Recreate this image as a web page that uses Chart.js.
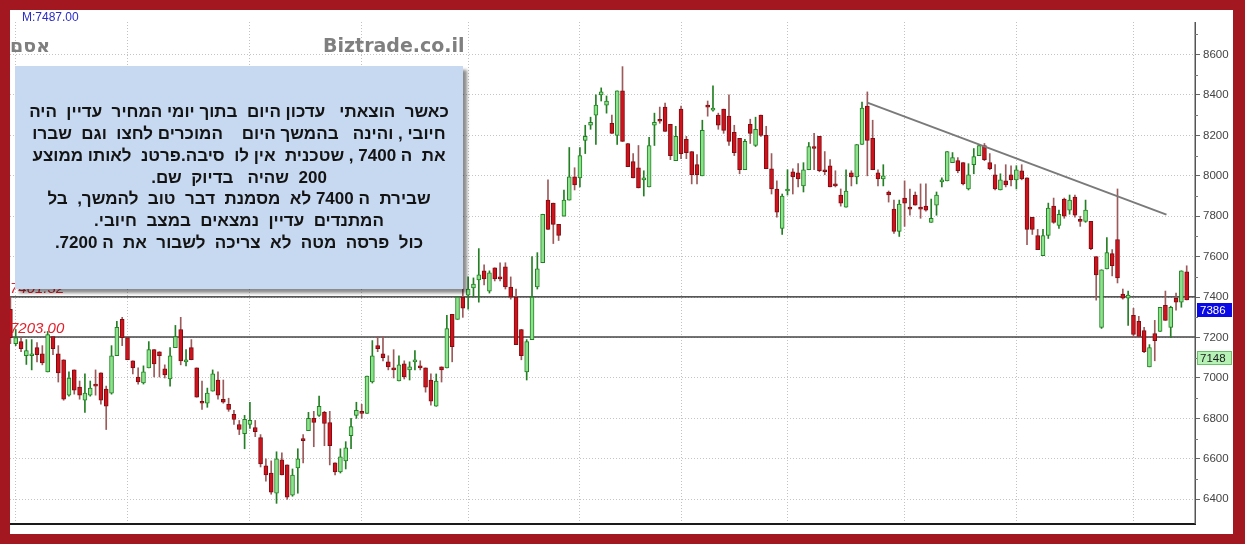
<!DOCTYPE html>
<html><head><meta charset="utf-8">
<script src="https://cdn.jsdelivr.net/npm/chart.js@4.4.1/dist/chart.umd.min.js"></script>
<style>
html,body{margin:0;padding:0;}
body{width:1245px;height:544px;background:#A31820;position:relative;overflow:hidden;font-family:"Liberation Sans",Arial,sans-serif;}
#frame{position:absolute;left:10px;top:10px;width:1223px;height:524px;background:#fff;}
#c{position:absolute;left:0;top:0;}
#mtxt{position:absolute;left:12px;top:0px;font-size:12px;color:#2A2ACB;}
#brand{position:absolute;left:313px;top:24px;font:bold 19px "DejaVu Sans",sans-serif;color:#7F7F7F;}
#sym{position:absolute;left:0px;top:24px;font:bold 19px "DejaVu Sans",sans-serif;color:#7F7F7F;}
#note{position:absolute;left:5px;top:56px;width:448px;height:223px;background:#C6D9F1;box-shadow:4px 4px 3px rgba(0,0,0,0.45);display:flex;flex-direction:column;justify-content:center;align-items:center;direction:rtl;}
#note div{white-space:pre;font:bold 17px "Liberation Sans",Arial,sans-serif;color:#141414;line-height:21.8px;text-align:center;}
</style></head>
<body>
<div id="frame">
<canvas id="c" width="1223" height="524"></canvas>
<div id="mtxt">M:7487.00</div>
<div id="brand">Biztrade.co.il</div>
<div id="sym">אסם</div>
<div id="note"></div>
</div>
<script>
// ---- data ----
const opens  = [7340,7170,7180,7110,7110,7150,7120,7030,7205,7120,7090,6915,7040,6955,6890,6915,6965,7025,6945,6925,
7110,7290,7200,7085,7005,6975,7050,7140,7130,7045,6995,7150,7240,7080,7150,7050,6885,6875,6935,6990,
6895,6870,6820,6770,6725,6770,6755,6705,6565,6530,6430,6595,6570,6420,6555,6695,6740,6800,6815,6830,
6780,6580,6535,6590,6715,6815,6830,6825,6980,7160,7120,7080,7050,6985,7070,7040,7080,7060,7050,6990,
6860,7055,7050,7315,7290,7400,7410,7445,7485,7530,7430,7545,7495,7550,7450,7400,7240,7030,7190,7450,
7570,7880,7865,7760,7800,7880,7995,7990,8175,8250,8300,8400,8350,8260,8200,8420,8160,8070,8040,7980,
7945,8250,8280,8340,8255,8075,8330,8180,8120,8055,8000,8345,8325,8300,8330,8295,8215,8185,8030,8255,
8150,8300,8200,8035,7935,7740,7925,8020,8015,7950,8030,8140,8195,8030,8050,7960,7905,7845,8015,7995,
8155,8345,8185,8015,7985,7920,7835,7725,7890,7840,7905,7840,7850,7770,7855,7970,7975,8065,8075,8065,
7935,8055,8100,8150,8065,8005,7930,7975,8005,7980,8025,7990,7795,7705,7605,7705,7850,7755,7885,7830,
7895,7785,7775,7775,7600,7250,7540,7615,7685,7415,7395,7310,7280,7235,7055,7220,7230,7360,7250,7395,
7375,7525];
const highs  = [7400,7240,7200,7190,7190,7175,7160,7230,7205,7160,7090,7030,7040,6985,7020,6985,7040,7025,6960,7160,
7280,7300,7200,7085,7050,7060,7180,7140,7130,7065,7150,7260,7300,7140,7190,7050,6985,6950,7040,7030,
6990,6900,6840,6790,6815,6880,6790,6720,6600,6590,6635,6630,6570,6550,6650,6720,6830,6835,6910,6835,
6835,6580,6650,6685,6800,6880,6870,7010,7185,7205,7205,7110,7140,7110,7085,7080,7135,7085,7050,7020,
7020,7055,7310,7315,7400,7440,7500,7495,7640,7560,7530,7545,7570,7570,7500,7440,7240,7190,7600,7620,
7810,7980,7865,7760,7930,8140,8040,8140,8250,8290,8400,8435,8395,8300,8420,8540,8160,8110,8150,8025,
8190,8310,8340,8360,8255,8245,8345,8195,8120,8105,8275,8370,8445,8310,8330,8400,8250,8185,8180,8280,
8290,8300,8245,8110,7975,7910,8030,8035,8060,8065,8165,8210,8195,8120,8080,8025,7935,8030,8025,8155,
8365,8415,8275,8030,8055,7925,7880,7880,7975,7935,7920,7960,7960,7885,7920,7990,8120,8115,8090,8065,
8060,8135,8155,8160,8110,8055,8010,8055,8050,8050,8055,7990,7795,7735,7735,7865,7890,7830,7890,7905,
7905,7800,7880,7775,7600,7535,7695,7635,7935,7440,7430,7345,7305,7250,7165,7285,7350,7430,7355,7420,
7530,7555];
const lows   = [7170,7160,7130,7067,7040,7080,7065,7030,7115,6980,6890,6910,6920,6895,6830,6910,6915,6870,6745,6920,
7110,7160,7090,7020,6970,6970,7050,7005,7005,7000,6960,7150,7065,7060,7090,6905,6845,6855,6935,6895,
6875,6835,6770,6720,6650,6750,6710,6560,6490,6425,6380,6520,6400,6415,6430,6580,6740,6660,6810,6665,
6570,6520,6530,6550,6650,6800,6800,6825,6975,7130,7085,7040,7000,6985,6995,6990,7040,7040,6930,6865,
6860,6980,7050,7080,7290,7300,7340,7400,7375,7460,7420,7480,7480,7440,7390,7165,7090,6990,7190,7440,
7570,7735,7665,7680,7800,7880,7930,7945,8110,8230,8155,8370,8310,8210,8155,8170,8045,7990,7940,7900,
7945,8150,8260,8220,8080,8075,8085,8085,7960,7960,8000,8295,8320,8230,8210,8150,8100,8010,8030,8160,
8145,8195,8035,7910,7795,7710,7905,7910,7945,7920,8030,8030,8020,8005,7945,7945,7850,7845,7950,7960,
8155,8000,8030,7950,7950,7870,7715,7700,7750,7805,7855,7790,7825,7770,7805,7945,7975,8065,8015,7955,
7930,8010,8100,8075,8030,7930,7930,7945,7950,7935,7980,7660,7710,7635,7605,7690,7765,7740,7790,7810,
7795,7750,7770,7635,7385,7245,7540,7505,7470,7390,7260,7200,7200,7125,7055,7085,7230,7285,7200,7335,
7350,7386];
const closes = [7200,7200,7145,7135,7118,7115,7075,7215,7145,7025,6895,7000,6940,6915,6925,6950,6960,6890,6860,7110,
7250,7200,7090,7050,6980,7030,7140,7070,7110,7015,7110,7205,7085,7085,7090,6905,6875,6925,7020,6915,
6880,6845,6795,6745,6795,6790,6735,6575,6520,6435,6600,6520,6410,6520,6600,6690,6800,6780,6860,6775,
6665,6535,6610,6655,6760,6840,6825,7010,7110,7145,7100,7055,7040,7065,7005,7055,7090,7050,6955,6885,
6985,7040,7245,7155,7400,7345,7440,7465,7510,7490,7520,7490,7490,7450,7400,7165,7110,7180,7400,7540,
7810,7735,7760,7705,7880,7995,7955,8100,8195,8265,8350,8415,8370,8210,8420,8170,8045,7990,7940,7985,
8150,8265,8270,8220,8100,8195,8110,8115,8005,8005,8225,8340,8335,8250,8225,8170,8115,8030,8170,8210,
8230,8200,8035,7935,7820,7900,7930,7995,7985,8030,8145,8135,8025,8020,7945,7950,7865,7925,7995,8155,
8335,8175,8030,7985,8000,7905,7725,7860,7865,7835,7855,7835,7830,7790,7905,7980,8120,8090,8025,7960,
8005,8095,8150,8080,8035,7935,7980,7955,7980,8030,7985,7735,7735,7635,7705,7840,7770,7810,7800,7880,
7805,7775,7830,7640,7510,7535,7620,7555,7495,7395,7410,7215,7205,7130,7150,7185,7350,7285,7350,7375,
7530,7386];
const monthStarts = [1,22,45,66,86,107,126,146,168,189,211];
const yTicks = [6400,6600,6800,7000,7200,7400,7600,7800,8000,8200,8400,8600];
const levelValues = [7401.32, 7203.00];
const levelLabels = ['7401.32', '7203.00'];
const trendX = [161, 217.2];
const trendY = [8362, 7808];
const tagValues = [7386, 7148];
const tagLabels = ['7386', '7148'];
const noteLines = [
'כאשר  הוצאתי   עדכון היום  בתוך יומי המחיר  עדיין  היה',
'חיובי , והינה   בהמשך היום    המוכרים לחצו  וגם  שברו',
'את  ה 7400 , שטכנית  אין לו  סיבה.פרטנ  לאותו ממוצע',
'200  שהיה   בדיוק  שם.',
'שבירת  ה 7400 לא  מסמנת  דבר  טוב  להמשך,  בל',
'המתנדים  עדיין  נמצאים  במצב  חיובי.',
'כול  פרסה  מטה  לא  צריכה  לשבור  את  ה 7200.'
];

document.getElementById('note').innerHTML = noteLines.map(l => '<div>' + l + '</div>').join('');

const xMin = -0.075, xMax = 222.56;
const up = i => closes[i] >= opens[i];
const bodyData = opens.map((o, i) => ({x: i, y: [o, closes[i]]}));
const wickData = opens.map((o, i) => ({x: i, y: [lows[i], highs[i]]}));

const GREEN_FILL = '#8BE38B', GREEN_LINE = '#237F23';
const RED_FILL = '#D0121C', RED_LINE = '#7E0C10', RED_WICK = '#9C5A5A';

const overlay = {
  id: 'overlay',
  afterDatasetsDraw(chart) {
    const {ctx, chartArea: a, scales: {y}} = chart;
    ctx.save();
    ctx.font = 'italic 15px "Liberation Sans", Arial, sans-serif';
    ctx.fillStyle = '#E3202B';
    ctx.textBaseline = 'alphabetic';
    levelValues.forEach((v, i) => ctx.fillText(levelLabels[i], a.left, y.getPixelForValue(v) - 4));
    ctx.restore();
  },
  afterDraw(chart) {
    const {ctx, chartArea: a, scales: {y}} = chart;
    ctx.save();
    ctx.strokeStyle = '#555';
    ctx.lineWidth = 1.5;
    ctx.beginPath(); ctx.moveTo(a.right + 0.25, a.top); ctx.lineTo(a.right + 0.25, a.bottom); ctx.stroke();
    ctx.strokeStyle = '#777';
    ctx.lineWidth = 1;
    for (let k = 0; k < yTicks.length; k++) {
      const v = yTicks[k] + 100;
      const py = Math.round(y.getPixelForValue(v)) + 0.5;
      if (py > a.top && py < a.bottom) {
        ctx.beginPath(); ctx.moveTo(a.right, py); ctx.lineTo(a.right + 3, py); ctx.stroke();
      }
    }
    ctx.font = '11.5px "Liberation Sans", Arial, sans-serif';
    ctx.textBaseline = 'middle';
    tagValues.forEach((v, i) => {
      const top = Math.round(y.getPixelForValue(v)) + 3;
      const left = a.right + 2, w = 35, h = 14;
      if (i === 0) {
        ctx.fillStyle = '#0A0AE6'; ctx.fillRect(left, top, w, h);
        ctx.fillStyle = '#FFFFFF';
      } else {
        ctx.fillStyle = '#B6F2B6'; ctx.fillRect(left, top, w, h);
        ctx.strokeStyle = '#6DBF6D'; ctx.strokeRect(left + 0.5, top + 0.5, w - 1, h - 1);
        ctx.fillStyle = '#1A1A1A';
      }
      ctx.fillText(tagLabels[i], left + 3, top + h / 2 + 1);
    });
    ctx.restore();
  }
};

new Chart(document.getElementById('c'), {
  type: 'bar',
  data: {
    datasets: [
      {
        type: 'line', data: [{x: trendX[0], y: trendY[0]}, {x: trendX[1], y: trendY[1]}],
        borderColor: '#7A7A7A', borderWidth: 2, pointRadius: 0, order: 0
      },
      {
        type: 'line', data: [{x: xMin, y: levelValues[0]}, {x: xMax, y: levelValues[0]}],
        borderColor: '#1E1E1E', borderWidth: 1.2, pointRadius: 0, order: 4
      },
      {
        type: 'line', data: [{x: xMin, y: levelValues[1]}, {x: xMax, y: levelValues[1]}],
        borderColor: '#444', borderWidth: 1.5, pointRadius: 0, order: 4
      },
      {
        data: bodyData, grouped: false, barThickness: 4, minBarLength: 2,
        backgroundColor: c => up(c.dataIndex) ? GREEN_FILL : RED_FILL,
        borderColor: c => up(c.dataIndex) ? GREEN_LINE : RED_LINE,
        borderWidth: 1, borderSkipped: false, order: 1
      },
      {
        data: wickData, grouped: false, barThickness: 1,
        backgroundColor: c => up(c.dataIndex) ? GREEN_LINE : RED_WICK,
        borderWidth: 0, order: 2
      }
    ]
  },
  options: {
    responsive: false, animation: false,
    layout: {padding: {top: 12, bottom: 1, left: 0, right: 0}},
    plugins: {legend: {display: false}, tooltip: {enabled: false}},
    scales: {
      x: {
        type: 'linear', min: xMin, max: xMax, offset: false,
        afterBuildTicks: s => { s.ticks = monthStarts.map(v => ({value: v})); },
        afterFit: s => { s.height = 0; },
        ticks: {display: false},
        grid: {color: '#C2C2C2', drawTicks: false, offset: false},
        border: {display: true, color: '#1A1A1A', width: 2, dash: [1, 2]}
      },
      y: {
        position: 'right', min: 6277.3, max: 8760.8,
        afterBuildTicks: s => { s.ticks = yTicks.map(v => ({value: v})); },
        afterFit: s => { s.width = 38; },
        ticks: {color: '#444', padding: 3, font: {size: 11.5, family: '"Liberation Sans", Arial, sans-serif'}, callback: v => String(v)},
        grid: {color: '#C4C4C4', tickColor: '#666', tickLength: 5, tickBorderDash: []},
        border: {display: false, dash: [1, 2]}
      }
    }
  },
  plugins: [overlay]
});
</script>
</body></html>
